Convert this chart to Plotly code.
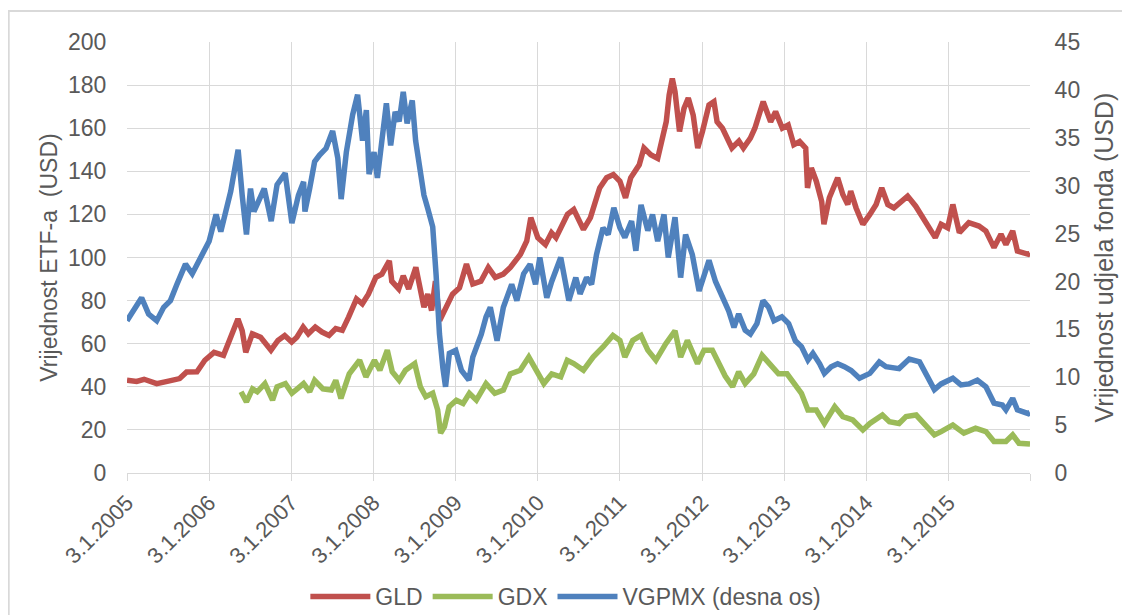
import plotly.graph_objects as go

# ---------------- data ----------------
gld_dates = [
    "2005-01-03", "2005-02-15", "2005-03-20", "2005-05-15", "2005-07-01", "2005-08-25",
    "2005-09-25", "2005-11-10", "2005-12-15", "2006-01-25", "2006-03-08", "2006-04-12",
    "2006-05-11", "2006-05-30", "2006-06-15", "2006-07-14", "2006-08-20", "2006-10-05",
    "2006-11-05", "2006-12-05", "2007-01-05", "2007-01-28", "2007-02-25", "2007-03-20",
    "2007-04-20", "2007-05-20", "2007-06-20", "2007-07-20", "2007-08-18", "2007-09-15",
    "2007-10-20", "2007-11-15", "2007-12-12", "2008-01-14", "2008-02-10", "2008-03-14",
    "2008-03-25", "2008-04-25", "2008-05-15", "2008-06-08", "2008-07-10", "2008-08-15",
    "2008-09-01", "2008-09-18", "2008-10-05", "2008-10-24", "2008-11-15", "2008-12-20",
    "2009-01-20", "2009-02-20", "2009-03-20", "2009-04-25", "2009-05-28", "2009-06-28",
    "2009-08-03", "2009-09-03", "2009-10-18", "2009-11-15", "2009-12-03", "2010-01-03",
    "2010-02-06", "2010-03-05", "2010-03-25", "2010-05-15", "2010-06-12", "2010-07-08",
    "2010-07-25", "2010-08-25", "2010-10-05", "2010-11-05", "2010-12-05", "2011-01-03",
    "2011-01-28", "2011-02-20", "2011-03-30", "2011-04-20", "2011-05-20", "2011-06-20",
    "2011-07-03", "2011-07-28", "2011-08-10", "2011-08-24", "2011-09-05", "2011-09-25",
    "2011-10-15", "2011-11-03", "2011-11-25", "2011-12-15", "2012-01-05", "2012-02-03",
    "2012-02-25", "2012-03-10", "2012-04-03", "2012-04-28", "2012-05-15", "2012-06-15",
    "2012-07-05", "2012-08-05", "2012-08-25", "2012-10-01", "2012-11-03", "2012-11-25",
    "2012-12-25", "2013-01-20", "2013-02-14", "2013-03-12", "2013-04-08", "2013-04-16",
    "2013-05-03", "2013-05-25", "2013-06-18", "2013-06-28", "2013-07-22", "2013-08-28",
    "2013-09-20", "2013-10-12", "2013-10-25", "2013-11-18", "2013-12-18", "2014-01-18",
    "2014-02-15", "2014-03-12", "2014-04-08", "2014-05-05", "2014-06-05", "2014-07-05",
    "2014-08-10", "2014-09-18", "2014-11-05", "2014-12-01", "2014-12-30", "2015-01-22",
    "2015-02-20", "2015-04-03", "2015-05-18", "2015-06-18", "2015-07-24", "2015-08-24",
    "2015-09-15", "2015-10-15", "2015-11-05", "2015-12-24", "2015-12-31",
]
gld_values = [
    43.1, 42.5, 43.5, 41.5, 42.5, 43.8,
    46.9, 47.0, 52.3, 56.0, 54.6, 63.0,
    71.5, 66.0, 56.0, 64.6, 63.0, 57.0,
    61.5, 63.8, 60.8, 63.0, 67.7, 64.6,
    67.7, 65.4, 63.8, 67.0, 66.2, 72.3,
    80.8, 78.5, 83.0, 90.8, 92.3, 98.5,
    89.0, 85.4, 91.5, 85.4, 95.4, 76.9,
    83.0, 75.4, 89.0, 70.8, 75.4, 83.0,
    86.0, 97.0, 87.7, 89.0, 95.4, 90.8,
    92.3, 95.4, 101.5, 107.7, 118.5, 109.2,
    106.0, 111.5, 109.2, 120.0, 122.3, 117.0,
    113.0, 118.5, 132.3, 137.0, 138.5, 135.4,
    127.7, 137.0, 143.0, 150.8, 147.7, 146.0,
    152.3, 163.0, 175.4, 183.0, 177.0, 158.5,
    169.2, 174.0, 166.0, 150.8, 158.5, 170.8,
    172.3, 163.0, 160.0, 155.0, 150.8, 154.0,
    150.8, 155.4, 160.0, 172.3, 163.0, 167.7,
    160.0, 161.5, 152.3, 153.8, 150.8, 132.3,
    141.5, 135.4, 126.0, 115.4, 127.7, 137.0,
    129.2, 124.6, 130.8, 123.0, 115.4, 120.0,
    124.6, 132.3, 124.6, 123.0, 125.4, 128.5,
    123.8, 117.0, 109.2, 115.4, 113.8, 124.6,
    111.5, 116.2, 114.6, 112.3, 104.6, 110.8,
    106.0, 112.3, 103.0, 101.5, 102.0,
]

gdx_dates = [
    "2006-05-25", "2006-06-18", "2006-07-15", "2006-08-05", "2006-09-08", "2006-10-12",
    "2006-11-01", "2006-12-08", "2007-01-06", "2007-02-27", "2007-03-26", "2007-04-17",
    "2007-05-24", "2007-06-30", "2007-07-20", "2007-08-12", "2007-09-18", "2007-11-03",
    "2007-12-01", "2008-01-08", "2008-02-01", "2008-03-05", "2008-03-27", "2008-04-27",
    "2008-05-25", "2008-07-05", "2008-07-30", "2008-08-23", "2008-09-23", "2008-10-15",
    "2008-10-28", "2008-11-14", "2008-12-05", "2009-01-06", "2009-02-05", "2009-03-05",
    "2009-04-05", "2009-05-18", "2009-06-26", "2009-08-03", "2009-09-03", "2009-10-17",
    "2009-11-24", "2009-12-24", "2010-01-30", "2010-03-06", "2010-04-15", "2010-05-14",
    "2010-06-12", "2010-07-25", "2010-09-06", "2010-10-20", "2010-12-03", "2011-01-03",
    "2011-01-25", "2011-03-01", "2011-04-07", "2011-05-07", "2011-06-12", "2011-07-26",
    "2011-09-05", "2011-09-30", "2011-10-30", "2011-12-14", "2012-01-12", "2012-02-18",
    "2012-03-25", "2012-04-15", "2012-05-18", "2012-06-14", "2012-07-13", "2012-08-20",
    "2012-09-26", "2012-11-01", "2012-12-08", "2013-01-15", "2013-02-14", "2013-03-20",
    "2013-04-18", "2013-05-25", "2013-06-30", "2013-08-15", "2013-09-20", "2013-11-03",
    "2013-12-18", "2014-01-18", "2014-03-15", "2014-04-15", "2014-05-28", "2014-06-28",
    "2014-08-12", "2014-09-24", "2014-11-01", "2014-12-01", "2015-01-22", "2015-03-12",
    "2015-05-03", "2015-06-18", "2015-07-24", "2015-09-15", "2015-10-15", "2015-11-12",
    "2015-12-24", "2015-12-31",
]
gdx_values = [
    37.7, 33.0, 39.0, 37.7, 41.5, 33.8,
    40.0, 41.5, 37.0, 41.5, 37.7, 43.0,
    39.0, 38.5, 43.0, 34.6, 46.0, 52.3,
    44.6, 52.3, 47.7, 57.0, 47.0, 43.0,
    47.7, 50.8, 40.0, 35.4, 37.0, 29.2,
    18.5, 21.5, 30.8, 33.8, 32.3, 37.0,
    33.8, 41.5, 37.0, 38.5, 46.0, 47.7,
    53.8, 47.7, 41.5, 46.0, 44.6, 52.3,
    50.8, 47.7, 53.8, 58.5, 63.8, 61.5,
    53.8, 61.5, 63.8, 57.0, 52.3, 60.0,
    66.0, 53.8, 61.5, 50.8, 57.0, 57.0,
    49.0, 45.0, 40.0, 47.0, 41.5, 46.0,
    54.6, 50.8, 46.0, 46.0, 41.5, 37.0,
    29.2, 29.2, 23.0, 30.8, 26.2, 24.6,
    20.0, 23.0, 26.9, 23.8, 23.0, 26.2,
    26.9, 21.5, 17.7, 19.2, 22.3, 18.5,
    20.8, 19.2, 14.6, 14.6, 17.7, 13.8,
    13.8, 13.5,
]

vgpmx_dates = [
    "2005-01-03", "2005-03-09", "2005-04-09", "2005-05-15", "2005-06-15", "2005-07-15",
    "2005-08-13", "2005-09-20", "2005-10-20", "2005-11-27", "2006-01-03", "2006-02-03",
    "2006-02-24", "2006-04-09", "2006-05-12", "2006-05-30", "2006-06-18", "2006-07-06",
    "2006-07-21", "2006-09-05", "2006-10-06", "2006-11-01", "2006-12-07", "2007-01-06",
    "2007-02-04", "2007-02-27", "2007-03-05", "2007-03-26", "2007-04-17", "2007-05-09",
    "2007-06-07", "2007-07-06", "2007-07-29", "2007-08-13", "2007-09-05", "2007-10-03",
    "2007-10-25", "2007-11-16", "2007-12-03", "2007-12-15", "2008-01-06", "2008-01-21",
    "2008-02-13", "2008-03-01", "2008-03-20", "2008-04-09", "2008-04-27", "2008-05-15",
    "2008-06-01", "2008-06-24", "2008-07-09", "2008-08-15", "2008-08-31", "2008-09-23",
    "2008-10-08", "2008-10-23", "2008-11-07", "2008-11-19", "2008-12-06", "2009-01-03",
    "2009-01-29", "2009-03-03", "2009-03-20", "2009-04-27", "2009-05-18", "2009-06-06",
    "2009-07-06", "2009-08-03", "2009-09-09", "2009-10-02", "2009-11-01", "2009-11-30",
    "2009-12-24", "2010-01-12", "2010-02-12", "2010-03-06", "2010-04-15", "2010-05-21",
    "2010-06-21", "2010-07-10", "2010-08-08", "2010-08-30", "2010-09-21", "2010-10-20",
    "2010-11-12", "2010-12-07", "2011-01-03", "2011-01-25", "2011-02-24", "2011-03-15",
    "2011-04-07", "2011-05-07", "2011-05-28", "2011-06-20", "2011-07-18", "2011-08-06",
    "2011-09-05", "2011-09-30", "2011-10-22", "2011-11-21", "2011-12-21", "2012-01-05",
    "2012-02-03", "2012-03-03", "2012-04-03", "2012-05-01", "2012-05-24", "2012-06-14",
    "2012-07-13", "2012-08-05", "2012-09-03", "2012-09-30", "2012-10-25", "2012-11-18",
    "2012-12-23", "2013-01-22", "2013-02-21", "2013-03-20", "2013-04-18", "2013-05-10",
    "2013-06-09", "2013-06-30", "2013-07-30", "2013-08-28", "2013-09-27", "2013-10-27",
    "2013-12-03", "2014-01-18", "2014-03-01", "2014-03-31", "2014-05-28", "2014-07-12",
    "2014-08-27", "2014-09-24", "2014-11-01", "2014-12-01", "2015-01-22", "2015-02-27",
    "2015-04-03", "2015-05-11", "2015-06-18", "2015-07-24", "2015-08-30", "2015-09-15",
    "2015-10-15", "2015-11-05", "2015-12-24", "2015-12-31",
]
vgpmx_values = [
    15.9, 18.3, 16.6, 15.9, 17.3, 18.0,
    19.7, 21.8, 20.8, 22.5, 24.2, 27.0,
    25.2, 29.4, 33.75, 29.0, 24.9, 29.7,
    27.3, 29.7, 26.3, 30.1, 31.3, 26.1,
    29.0, 30.4, 27.3, 29.7, 32.5, 33.2,
    33.9, 35.7, 32.9, 28.6, 33.5, 37.4,
    39.5, 34.7, 37.9, 31.2, 33.5, 30.8,
    34.7, 38.6, 34.2, 37.7, 36.7, 39.8,
    36.5, 38.9, 34.7, 29.0, 27.7, 25.7,
    20.7, 14.5, 11.0, 9.0, 12.5, 12.8,
    10.7, 9.7, 12.1, 14.5, 16.3, 17.3,
    13.8, 17.3, 19.7, 18.0, 20.8, 21.8,
    19.7, 22.5, 18.3, 20.0, 22.5, 18.0,
    20.4, 18.7, 20.4, 19.7, 22.8, 25.6,
    24.9, 27.7, 25.6, 24.6, 26.3, 23.2,
    28.0, 25.3, 27.0, 24.2, 27.0, 22.5,
    26.7, 20.4, 24.9, 22.8, 19.0, 20.0,
    22.2, 20.0, 18.3, 16.9, 15.2, 16.6,
    14.9, 14.5, 15.6, 18.0, 17.3, 15.9,
    16.3, 15.6, 13.8, 13.2, 11.8, 12.5,
    11.4, 10.4, 11.1, 11.4, 11.1, 10.7,
    9.9, 10.4, 11.6, 11.1, 10.9, 11.9,
    11.6, 10.4, 8.7, 9.3, 9.9, 9.2,
    9.3, 9.7, 9.0, 7.3, 7.1, 6.6,
    7.8, 6.6, 6.2, 6.3,
]

tick_dates = ["2005-01-03", "2006-01-03", "2007-01-03", "2008-01-03", "2009-01-03",
              "2010-01-03", "2011-01-03", "2012-01-03", "2013-01-03", "2014-01-03",
              "2015-01-03", "2015-12-31"]
tick_labels = ["3.1.2005", "3.1.2006", "3.1.2007", "3.1.2008", "3.1.2009", "3.1.2010",
               "3.1.2011", "3.1.2012", "3.1.2013", "3.1.2014", "3.1.2015", ""]

x_range = ["2005-01-03", "2015-12-31"]

# ---------------- figure ----------------
FONT = "Liberation Sans, Arial, sans-serif"
TXT = "#595959"
GRID = "#d9d9d9"
LW = 5.5

fig = go.Figure()
fig.add_trace(go.Scatter(x=gld_dates, y=gld_values, name="GLD", mode="lines",
                         line=dict(color="#C0504D", width=LW)))
fig.add_trace(go.Scatter(x=gdx_dates, y=gdx_values, name="GDX", mode="lines",
                         line=dict(color="#9BBB59", width=LW)))
fig.add_trace(go.Scatter(x=vgpmx_dates, y=vgpmx_values, name="VGPMX (desna os)",
                         mode="lines", yaxis="y2",
                         line=dict(color="#4F81BD", width=LW)))

fig.update_layout(
    width=1130, height=615, autosize=False,
    margin=dict(l=119, r=108, t=34, b=150),
    paper_bgcolor="white", plot_bgcolor="white",
    font=dict(family=FONT, size=23, color=TXT),
    showlegend=True,
    legend=dict(orientation="h", x=0.486, xanchor="center",
                yref="container", y=0.043, yanchor="middle",
                font=dict(size=23, color=TXT), traceorder="normal", itemwidth=60),
    xaxis=dict(
        type="date", range=x_range, automargin=False,
        tickmode="array", tickvals=tick_dates, ticktext=tick_labels,
        tickangle=-45, showgrid=True, gridcolor=GRID, gridwidth=1.3,
        showline=True, linecolor=GRID, linewidth=1.3,
        ticks="outside", ticklen=7, tickcolor=GRID,
        tickfont=dict(size=22, color=TXT), zeroline=False,
    ),
    yaxis=dict(
        range=[0, 200], dtick=20, showgrid=True, gridcolor=GRID, gridwidth=1.3,
        automargin=False,
        zeroline=False, ticks="outside", ticklen=15, tickcolor="rgba(0,0,0,0)",
        tickfont=dict(size=23, color=TXT),
        title=dict(text="Vrijednost ETF-a\u00a0\u00a0(USD)", standoff=3,
                   font=dict(size=23, color=TXT)),
    ),
    yaxis2=dict(
        range=[0, 45], dtick=5, overlaying="y", side="right", showgrid=False,
        automargin=False,
        zeroline=False, ticks="outside", ticklen=19, tickcolor="rgba(0,0,0,0)",
        tickfont=dict(size=23, color=TXT),
        title=dict(text="Vrijednost udjela fonda (USD)", standoff=16,
                   font=dict(size=25, color=TXT)),
    ),
    shapes=[dict(type="rect", xref="paper", yref="paper",
                 x0=-0.131, x1=1.12, y0=-0.40, y1=1.072,
                 line=dict(color=GRID, width=2), fillcolor="rgba(0,0,0,0)", layer="below")],
)

fig.write_html("out.html")
